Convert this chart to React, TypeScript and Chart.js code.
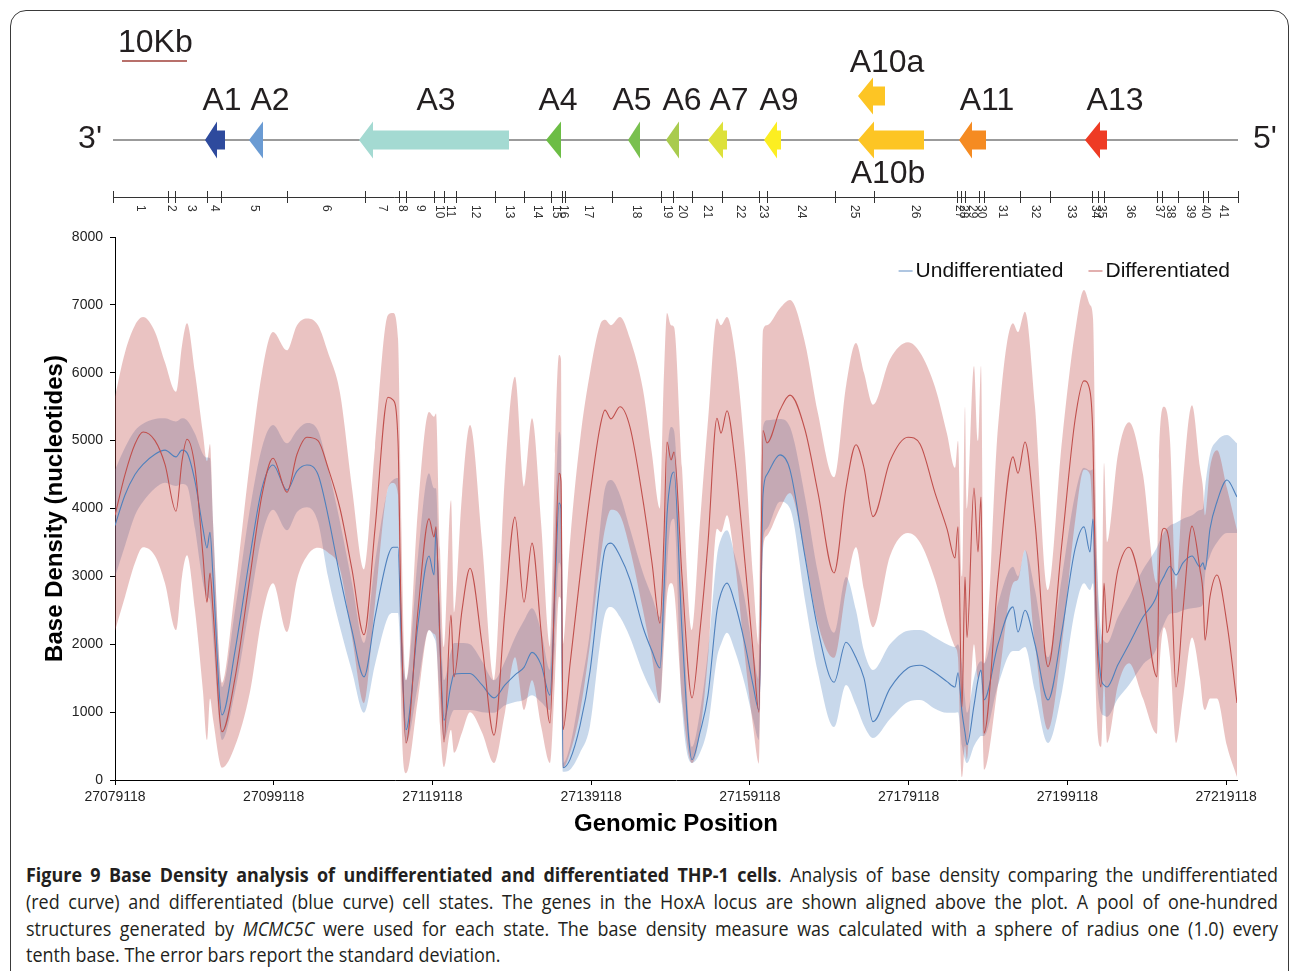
import React, { useEffect, useRef } from 'react';
import { Chart, registerables } from 'chart.js';

Chart.register(...registerables);

const FONT = '"Liberation Sans", Arial, Helvetica, sans-serif';
const LOCUS_START = 27079118;
const X_END_OFFSET = 141372;

// genomic positions, bp offset from LOCUS_START
const positions = [
  0, 1260, 2520, 3528, 5040, 6300, 7686, 8442, 9072, 10080, 11088, 11592, 11970, 12348, 13482, 15120, 17010, 18522, 19908, 21672, 22932, 24192, 25578, 26838, 28350,
  29862, 31374, 32760, 34398, 35028, 35658, 36036, 36666, 38178, 39564, 40194, 40446, 40950, 41454, 42336, 42714, 43722, 44730, 46242, 47754, 49140, 50400, 51534, 52542, 53676, 54810, 55440, 55944, 56196, 56448,
  57330, 58590, 59850, 61110, 61740, 62496, 63630, 64890, 66528, 67662, 68670, 69174, 69552, 70056, 70434, 71442, 72702, 73710, 74718, 75852, 76356, 77112, 78120, 79380, 80388, 81144, 81648, 82152, 83790, 85050,
  86940, 88578, 90594, 92106, 93366, 94374, 95508, 97650, 99918, 101430, 103320, 104832, 105840, 106218, 106722, 107100, 107352, 108234, 108738, 109116, 109494, 111258, 113148,
  113778, 114660, 115920, 117558, 119322, 120960, 122094, 122850, 123228, 123606, 124236, 124614, 124992, 126378, 127764, 129528, 131292, 131544, 132174, 132930, 133686, 134568, 135702, 136710, 137088, 137340, 137970, 138852, 140112, 141372,
];

// Differentiated (red): mean and +/- standard deviation
const redMean = [
  3900, 4500, 4950, 5127, 5000, 4650, 3960, 4700, 5020, 4600, 3300, 2620, 3050, 2500, 710, 1500, 3000, 4200, 4740, 4240, 4800, 5050, 5000, 4600, 4000,
  3100, 2140, 3700, 5640, 5600, 5000, 2500, 545, 2500, 3850, 3580, 3730, 2000, 560, 2430, 1520, 2500, 3120, 2000, 660, 2500, 3875, 2620, 3490, 2200, 840, 3000, 4520, 4400, 740,
  1700, 3000, 4200, 5200, 5450, 5320, 5500, 5200, 4120, 3200, 2310, 3600, 4980, 4715, 4830, 3000, 1210, 2200, 3500, 5330, 5110, 5440, 4700, 3200, 1900, 1000, 5150, 4965, 5450, 5670,
  5160, 4230, 3050, 4300, 4940, 4600, 3880, 4700, 5050, 4950, 4230, 3700, 3270, 3730, 1075, 2990, 2100, 4300, 3360, 4170, 690, 2950, 4760,
  4520, 4980, 3800, 1670, 3500, 5300, 5880, 5730, 5000, 2500, 1370, 2900, 2170, 3100, 3430, 2700, 1520, 3000, 3710, 3400, 1370, 2500, 3740, 3100, 2750, 2060, 2700, 3020, 2300, 1134,
];
const redUpper = [
  5650, 6300, 6700, 6820, 6600, 6150, 5720, 6400, 6730, 6000, 5100, 4700, 4950, 3800, 1430, 2800, 4700, 6000, 6600, 6330, 6700, 6800, 6700, 6300, 5700,
  4300, 3100, 4900, 6850, 6880, 6500, 4000, 1470, 4000, 5420, 5350, 5400, 3400, 1960, 4120, 2460, 4200, 5230, 3500, 1470, 4500, 5940, 4320, 5330, 3800, 1960, 4800, 6260, 6200, 2000,
  3500, 5000, 6000, 6700, 6780, 6700, 6820, 6500, 5750, 4800, 4000, 6000, 6880, 6700, 6674, 4600, 2210, 3800, 5300, 6800, 6700, 6820, 6300, 4800, 3000, 1960, 6630, 6700, 6950, 7070,
  6440, 5400, 4460, 5800, 6440, 6000, 5530, 6200, 6450, 6300, 5790, 5100, 4600, 5000, 3000, 5500, 4000, 6100, 5000, 6100, 1700, 5200, 6730,
  6600, 6900, 5500, 2800, 5000, 6600, 7220, 7000, 6800, 4000, 2000, 4670, 3500, 4800, 5270, 4500, 2900, 4700, 5500, 5000, 2800, 4400, 5520, 4600, 4300, 3900, 4600, 4860, 4300, 3680,
];
const redLower = [
  2200, 2700, 3200, 3430, 3300, 2900, 2210, 3000, 3310, 2500, 1300, 590, 1200, 900, 180, 500, 1300, 2400, 2900, 2180, 2950, 3300, 3420, 3350, 3100,
  2100, 1130, 2600, 4300, 4376, 4200, 1200, 100, 1200, 2210, 2150, 2100, 800, 190, 740, 400, 700, 1000, 700, 250, 1000, 1810, 1030, 1470, 800, 250, 1500, 2700, 2650, 180,
  400, 1000, 2000, 3200, 3700, 3980, 3900, 3400, 2500, 1800, 1130, 2000, 2700, 2900, 2800, 1200, 250, 700, 1800, 3700, 3650, 3900, 3200, 1800, 800, 240, 3390, 3600, 4000, 4230,
  3300, 2300, 1800, 2800, 3430, 2800, 2250, 3300, 3640, 3500, 2950, 2300, 1960, 1800, 44, 500, 300, 2000, 1500, 1600, 150, 1400, 2900,
  2950, 3390, 2000, 740, 2000, 3800, 4570, 4500, 3500, 1200, 490, 1470, 545, 1400, 1720, 1200, 680, 1500, 2250, 1800, 545, 1200, 2100, 1500, 1100, 1030, 1200, 1200, 500, 44,
];

// Undifferentiated (blue): mean and +/- standard deviation
const blueMean = [
  3750, 4200, 4500, 4650, 4800, 4860, 4760, 4860, 4820, 4400, 3700, 3420, 3650, 3000, 960, 1900, 3300, 4300, 4640, 4270, 4550, 4640, 4500, 3900, 3000,
  2200, 1520, 2400, 3300, 3430, 3430, 2200, 740, 2300, 3300, 3020, 3700, 2000, 880, 1400, 1560, 1570, 1570, 1400, 1210, 1400, 1550, 1660, 1880, 1700, 1250, 2800, 4080, 4000, 180,
  300, 800, 1600, 2900, 3400, 3490, 3300, 2950, 2250, 1900, 1650, 2800, 3900, 4450, 4538, 2200, 300, 700, 1250, 2500, 2750, 2900, 2600, 2000, 1400, 1030, 4200, 4500, 4790, 4570,
  3290, 2210, 1440, 2030, 1800, 1500, 860, 1350, 1650, 1690, 1580, 1450, 1370, 1580, 1000, 700, 520, 1100, 1470, 1620, 1180, 2000, 2550,
  2180, 2500, 2000, 1180, 2200, 3400, 3730, 3360, 3845, 2500, 1500, 1400, 1370, 1700, 2000, 2400, 2725, 2850, 3000, 3150, 3020, 3200, 3300, 3140, 3200, 3100, 3700, 4100, 4420, 4170,
];
const blueUpper = [
  4570, 4900, 5150, 5250, 5320, 5330, 5280, 5330, 5300, 5100, 4800, 4750, 4740, 3800, 1370, 2500, 4000, 4900, 5230, 4960, 5150, 5260, 5150, 4600, 3800,
  2900, 2020, 3200, 4300, 4420, 4450, 2800, 1470, 3300, 4520, 4300, 4300, 2600, 1470, 1900, 2020, 2020, 2000, 1750, 1470, 1750, 2100, 2350, 2530, 2200, 1620, 3800, 5130, 5000, 250,
  500, 1300, 2200, 3700, 4300, 4420, 4200, 3700, 3050, 2700, 2400, 3400, 4700, 5200, 5150, 2900, 490, 1000, 1900, 3300, 3550, 3680, 3300, 2650, 1900, 1470, 5200, 5300, 5320, 5200,
  4170, 3050, 2170, 2990, 2500, 1900, 1620, 2000, 2200, 2210, 2100, 2000, 1960, 2000, 1700, 1200, 990, 1500, 1700, 1750, 1720, 2600, 3140,
  3000, 3390, 2800, 1810, 3000, 4200, 4600, 4560, 4580, 3500, 2200, 2050, 2018, 2400, 2700, 3100, 3430, 3500, 3650, 3750, 3790, 3850, 3900, 3978, 4000, 4300, 4800, 5000, 5083, 4960,
];
const blueLower = [
  2990, 3450, 3900, 4100, 4300, 4380, 4330, 4360, 4330, 3700, 2900, 2700, 2650, 2100, 590, 1300, 2600, 3600, 3980, 3680, 3950, 4020, 3800, 3000, 2250,
  1600, 990, 1700, 2400, 2460, 2460, 1600, 550, 1400, 2210, 2100, 2000, 1200, 590, 950, 1030, 1030, 1030, 1000, 990, 1100, 1150, 1180, 1250, 1150, 1030, 2000, 3200, 3100, 120,
  150, 400, 800, 2000, 2450, 2550, 2400, 2100, 1580, 1300, 1130, 2200, 3100, 3800, 3850, 1100, 250, 400, 800, 1800, 2000, 2170, 1900, 1400, 900, 590, 3500, 3700, 4100, 4000,
  2650, 1580, 780, 1400, 1100, 800, 620, 900, 1150, 1180, 1050, 990, 990, 1000, 500, 300, 250, 500, 600, 650, 650, 1400, 1900,
  1900, 1960, 1300, 545, 1300, 2500, 2900, 2800, 2900, 1700, 1000, 950, 930, 1200, 1400, 1700, 1960, 2100, 2300, 2450, 2460, 2500, 2530, 2550, 2600, 3000, 3300, 3500, 3640, 3640,
];

const xTickOffsets = [0, 20000, 40000, 60000, 80000, 100000, 120000, 140000];
const yMax = 8000;
const yStep = 1000;

// HoxA locus diagram (bp offsets from LOCUS_START)
const fragmentBounds = [
  -252, 6678, 7560, 11592, 13356, 21672, 31500, 35784, 36666, 40194, 41454, 42966, 47880, 51534, 54936, 56322, 56700,
  62622, 68796, 70308, 72702, 76482, 81144, 82152, 90720, 95634, 106092, 106596, 107100, 108864, 109494, 114030,
  117810, 123102, 123858, 124614, 131292, 131922, 133938, 137088, 137718, 141498,
];
const geneNames = ['A1', 'A2', 'A3', 'A4', 'A5', 'A6', 'A7', 'A9', 'A10a', 'A10b', 'A11', 'A13'];
const geneTip = [11340, 16884, 30744, 54306, 64638, 69426, 74718, 81774, 93618, 93618, 106344, 122220];
const geneHeadEnd = [12852, 18648, 32508, 56196, 66150, 71064, 76608, 83412, 95508, 95634, 107982, 124110];
const geneEnd = [13860, 18648, 49644, 56196, 66150, 71064, 77112, 83916, 97020, 101934, 109746, 124992];
const geneUpperRow = [false, false, false, false, false, false, false, false, true, false, false, false];
const geneLabelPos = [13482, 19530, 40446, 55818, 65142, 71442, 77364, 83664, 97272, 97398, 109872, 126000];
const geneColors = ['#2E4A9D', '#6A9BD3', '#A4DAD2', '#6CBD45', '#79C04F', '#A9CB4E', '#DDE13A', '#FCEE21', '#FDC524', '#FDC524', '#F58B22', '#EE3B24'];

const RED = '#C0504D';
const BLUE = '#4F81BD';

const pts = (arr: number[]) => positions.map((p, i) => ({ x: LOCUS_START + p, y: arr[i] }));

const diagramPlugin = {
  id: 'hoxDiagram',
  afterDraw(chart: any) {
    const ctx: CanvasRenderingContext2D = chart.ctx;
    const xs = chart.scales.x;
    const area = chart.chartArea;
    const px = (off: number) => xs.getPixelForValue(LOCUS_START + off);
    ctx.save();

    // scale bar
    ctx.fillStyle = '#231f20';
    ctx.font = `32px ${FONT}`;
    ctx.textAlign = 'left';
    ctx.textBaseline = 'alphabetic';
    ctx.fillText('10Kb', px(378), 52);
    ctx.strokeStyle = '#A0403A';
    ctx.lineWidth = 1.5;
    ctx.beginPath();
    ctx.moveTo(px(882), 61);
    ctx.lineTo(px(9072), 61);
    ctx.stroke();

    // locus line
    const x0 = px(fragmentBounds[0]);
    const x1 = px(fragmentBounds[fragmentBounds.length - 1]);
    const yc = 140;
    ctx.strokeStyle = '#7a7a7a';
    ctx.lineWidth = 1.5;
    ctx.beginPath();
    ctx.moveTo(x0, yc);
    ctx.lineTo(x1, yc);
    ctx.stroke();
    ctx.fillStyle = '#231f20';
    ctx.font = `32px ${FONT}`;
    ctx.textAlign = 'right';
    ctx.fillText("3'", x0 - 11, 148);
    ctx.textAlign = 'left';
    ctx.fillText("5'", x1 + 15, 148);

    // genes
    geneNames.forEach((name, i) => {
      const cy = geneUpperRow[i] ? 96 : yc;
      const hh = 18.5;
      const bh = 9.5;
      const t = px(geneTip[i]);
      const h = px(geneHeadEnd[i]);
      const e = px(geneEnd[i]);
      ctx.fillStyle = geneColors[i];
      ctx.beginPath();
      ctx.moveTo(t, cy);
      ctx.lineTo(h, cy - hh);
      if (e > h + 0.5) {
        ctx.lineTo(h, cy - bh);
        ctx.lineTo(e, cy - bh);
        ctx.lineTo(e, cy + bh);
        ctx.lineTo(h, cy + bh);
      }
      ctx.lineTo(h, cy + hh);
      ctx.closePath();
      ctx.fill();
      ctx.fillStyle = '#231f20';
      ctx.font = `32px ${FONT}`;
      ctx.textAlign = 'center';
      const ly = name === 'A10a' ? 72 : name === 'A10b' ? 183 : 110;
      ctx.fillText(name, px(geneLabelPos[i]), ly);
    });

    // fragment ruler
    const ry = 197;
    ctx.strokeStyle = '#333';
    ctx.lineWidth = 1;
    ctx.beginPath();
    ctx.moveTo(x0, ry + 0.5);
    ctx.lineTo(x1, ry + 0.5);
    fragmentBounds.forEach((b) => {
      const x = Math.round(px(b)) + 0.5;
      ctx.moveTo(x, ry - 6);
      ctx.lineTo(x, ry + 6);
    });
    ctx.stroke();
    ctx.fillStyle = '#333';
    ctx.font = `12px ${FONT}`;
    for (let i = 0; i < fragmentBounds.length - 1; i++) {
      const mid = (px(fragmentBounds[i]) + px(fragmentBounds[i + 1])) / 2;
      ctx.save();
      ctx.translate(mid, 205);
      ctx.rotate(Math.PI / 2);
      ctx.textAlign = 'left';
      ctx.textBaseline = 'middle';
      ctx.fillText(String(i + 1), 0, 0);
      ctx.restore();
    }

    // legend
    ctx.font = `21px ${FONT}`;
    ctx.textBaseline = 'middle';
    ctx.textAlign = 'left';
    const ly = area.top + 34;
    const redText = 'Differentiated';
    const blueText = 'Undifferentiated';
    const redX = area.right - 7 - ctx.measureText(redText).width;
    const blueX = redX - 42 - ctx.measureText(blueText).width;
    ctx.lineWidth = 1.5;
    ctx.strokeStyle = '#95B3D7';
    ctx.beginPath();
    ctx.moveTo(blueX - 17, ly);
    ctx.lineTo(blueX - 3, ly);
    ctx.stroke();
    ctx.strokeStyle = '#D99694';
    ctx.beginPath();
    ctx.moveTo(redX - 17, ly);
    ctx.lineTo(redX - 3, ly);
    ctx.stroke();
    ctx.fillStyle = '#111';
    ctx.fillText(blueText, blueX, ly);
    ctx.fillText(redText, redX, ly);

    ctx.restore();
  },
};

function ChartCanvas() {
  const ref = useRef<HTMLCanvasElement | null>(null);
  useEffect(() => {
    if (!ref.current) return;
    const band = (data: number[], color: string | false) => ({
      data: pts(data),
      borderWidth: 0,
      borderColor: 'rgba(0,0,0,0)',
      backgroundColor: color || 'rgba(0,0,0,0)',
      fill: color ? '+1' : false,
      pointRadius: 0,
      cubicInterpolationMode: 'monotone' as const,
    });
    const chart = new Chart(ref.current, {
      type: 'line',
      data: {
        datasets: [
          { label: 'Differentiated', data: pts(redMean), borderColor: RED, borderWidth: 1.1, pointRadius: 0, fill: false, cubicInterpolationMode: 'monotone' },
          { label: 'Undifferentiated', data: pts(blueMean), borderColor: BLUE, borderWidth: 1.1, pointRadius: 0, fill: false, cubicInterpolationMode: 'monotone' },
          { label: 'Differentiated +SD', ...band(redUpper, 'rgba(192,80,77,0.34)') },
          { label: 'Differentiated -SD', ...band(redLower, false) },
          { label: 'Undifferentiated +SD', ...band(blueUpper, 'rgba(79,129,189,0.31)') },
          { label: 'Undifferentiated -SD', ...band(blueLower, false) },
        ] as any,
      },
      options: {
        animation: false,
        responsive: true,
        maintainAspectRatio: false,
        events: [],
        layout: { padding: { left: 37, right: 53, top: 237, bottom: 0 } },
        plugins: { legend: { display: false }, tooltip: { enabled: false } },
        scales: {
          x: {
            type: 'linear',
            min: LOCUS_START,
            max: LOCUS_START + X_END_OFFSET,
            afterBuildTicks: (scale: any) => {
              scale.ticks = xTickOffsets.map((v) => ({ value: LOCUS_START + v }));
            },
            afterFit: (scale: any) => {
              scale.height = 63;
            },
            ticks: {
              autoSkip: false,
              maxRotation: 0,
              padding: 4,
              color: '#222',
              font: { family: FONT, size: 14 },
              callback: (v: any) => String(v),
            },
            grid: { display: true, drawOnChartArea: false, drawTicks: true, tickLength: 5, color: '#000' },
            border: { display: true, color: '#000', width: 1 },
            title: { display: true, text: 'Genomic Position', color: '#000', font: { family: FONT, size: 24, weight: 'bold' } },
          },
          y: {
            min: 0,
            max: yMax,
            afterFit: (scale: any) => {
              scale.width = 78;
            },
            ticks: { stepSize: yStep, padding: 7, color: '#222', font: { family: FONT, size: 14 }, callback: (v: any) => String(v) },
            grid: { display: true, drawOnChartArea: false, drawTicks: true, tickLength: 5, color: '#000' },
            border: { display: true, color: '#000', width: 1 },
            title: { display: true, text: 'Base Density (nucleotides)', color: '#000', font: { family: FONT, size: 24, weight: 'bold' } },
          },
        },
      } as any,
      plugins: [diagramPlugin],
    });
    return () => chart.destroy();
  }, []);
  return (
    <div style={{ position: 'absolute', left: 0, top: 0, width: 1290, height: 843 }}>
      <canvas ref={ref} />
    </div>
  );
}

const CAP_SCALE = 0.92;
const capLine = (top: number, justify: boolean): React.CSSProperties => ({
  position: 'absolute',
  left: 26,
  top,
  width: 1252 / CAP_SCALE,
  fontFamily: '"Open Sans", "Noto Sans", sans-serif',
  fontSize: 19.5,
  lineHeight: '26px',
  color: '#231f20',
  textAlign: justify ? 'justify' : 'left',
  textAlignLast: justify ? 'justify' : 'left',
  transform: `scaleX(${CAP_SCALE})`,
  transformOrigin: '0 0',
});

export default function App() {
  return (
    <div style={{ position: 'absolute', left: 0, top: 0, width: 1290, height: 971, overflow: 'hidden', background: '#fff' }}>
      <div
        style={{
          position: 'absolute',
          left: 10,
          top: 10,
          width: 1279,
          height: 1100,
          boxSizing: 'border-box',
          border: '1.5px solid #3a3a3a',
          borderRadius: 16,
        }}
      />
      <ChartCanvas />
      <div style={capLine(862, true)}>
        <b>Figure 9 Base Density analysis of undifferentiated and differentiated THP-1 cells</b>. Analysis of base density comparing the undifferentiated
      </div>
      <div style={capLine(889, true)}>
        (red curve) and differentiated (blue curve) cell states. The genes in the HoxA locus are shown aligned above the plot. A pool of one-hundred
      </div>
      <div style={capLine(916, true)}>
        structures generated by <i>MCMC5C</i> were used for each state. The base density measure was calculated with a sphere of radius one (1.0) every
      </div>
      <div style={capLine(942, false)}>tenth base. The error bars report the standard deviation.</div>
    </div>
  );
}
